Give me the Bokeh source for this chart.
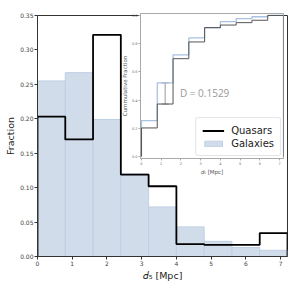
from bokeh.plotting import figure
from bokeh.layouts import column
from bokeh.models import (Range1d, FixedTicker, Legend, LegendItem, Whisker,
                          TeeHead, ColumnDataSource, NumeralTickFormatter)
from bokeh.embed import file_html
from bokeh.resources import INLINE
from bokeh.core.properties import value
import numpy as np

# ---------------- data ----------------
bin_edges = [0.0, 0.8, 1.6, 2.4, 3.2, 4.0, 4.8, 5.6, 6.4, 7.2]
quasar_frac = [0.203, 0.170, 0.322, 0.119, 0.102, 0.018, 0.017, 0.017, 0.034]
galaxy_frac = [0.255, 0.267, 0.199, 0.120, 0.072, 0.043, 0.022, 0.013, 0.009]
ks_label = "D = 0.1529"
x_ticks = [0, 1, 2, 3, 4, 5, 6, 7]
y_ticks = [0.0, 0.05, 0.10, 0.15, 0.20, 0.25, 0.30, 0.35]
inset_y_ticks = [0.0, 0.2, 0.4, 0.6, 0.8, 1.0]

GAL_FILL = "#d0dcea"
GAL_LINE = "#bfcfe4"
FONT = "DejaVu Sans"

MAIN_LEFT = 37

# ---------------- main figure ----------------
main = figure(frame_width=250, frame_height=241, title=None,
              x_range=Range1d(0, 7.2), y_range=Range1d(0, 0.35),
              output_backend="svg", toolbar_location=None,
              min_border_left=MAIN_LEFT, min_border_right=8,
              min_border_top=15, min_border_bottom=24)

main.quad(left=bin_edges[:-1], right=bin_edges[1:], bottom=0, top=galaxy_frac,
          fill_color=GAL_FILL, line_color=GAL_LINE, line_width=1)
main.step([bin_edges[0]] + bin_edges, [0] + quasar_frac + [0], mode="after",
          line_color="black", line_width=1.8)

main.xgrid.visible = False
main.ygrid.visible = False
main.outline_line_color = "#333333"
main.outline_line_width = 1
main.xaxis.ticker = FixedTicker(ticks=x_ticks)
main.yaxis.ticker = FixedTicker(ticks=y_ticks)
main.yaxis.formatter = NumeralTickFormatter(format="0.00")
main.xaxis.axis_label = "\U0001D451\u2085 [Mpc]"
main.yaxis.axis_label = "Fraction"
for ax in (main.xaxis, main.yaxis):
    ax.axis_line_color = "#333333"
    ax.major_tick_line_color = "#333333"
    ax.major_tick_out = 3
    ax.major_tick_in = 0
    ax.minor_tick_line_color = None
    ax.major_label_text_font = FONT
    ax.major_label_text_font_size = "6px"
    ax.major_label_text_color = "#444444"
    ax.major_label_standoff = 1
    ax.axis_label_text_font = FONT
    ax.axis_label_text_font_size = "9.5px"
    ax.axis_label_text_font_style = "normal"
    ax.axis_label_text_color = "#222222"
    ax.axis_label_standoff = 1

# ---------------- inset figure ----------------
cq = np.cumsum(quasar_frac) / np.sum(quasar_frac)
cg = np.cumsum(galaxy_frac) / np.sum(galaxy_frac)
diff = np.abs(cg - cq)
k = int(np.argmax(diff))
d_x = 0.5 * (bin_edges[k] + bin_edges[k + 1])
d_lo = float(min(cq[k], cg[k]))
d_hi = float(max(cq[k], cg[k]))

ins = figure(frame_width=143, frame_height=145, title=None,
             x_range=Range1d(-0.05, 7.2), y_range=Range1d(-0.014, 1.014),
             output_backend="svg", toolbar_location=None,
             min_border_left=MAIN_LEFT, min_border_right=8,
             min_border_top=2, min_border_bottom=16)
ins.border_fill_alpha = 0
ins.background_fill_color = "white"
ins.xgrid.visible = False
ins.ygrid.visible = False
ins.outline_line_color = "#aaaaaa"
ins.outline_line_width = 1

step_x = [bin_edges[0]] + bin_edges
ins.step(step_x, [0] + list(cg) + [0], mode="after",
         line_color="#a9c1e1", line_width=1.3)
ins.step(step_x, [0] + list(cq) + [0], mode="after",
         line_color="#555555", line_width=1.0)

wsrc = ColumnDataSource(dict(base=[d_x], lower=[d_lo], upper=[d_hi]))
ins.add_layout(Whisker(source=wsrc, base="base", lower="lower", upper="upper",
                       dimension="height", line_color="#999999", line_width=1,
                       upper_head=TeeHead(size=7, line_color="#999999", line_width=1),
                       lower_head=TeeHead(size=7, line_color="#999999", line_width=1)))
ins.text(x=[d_x + 0.75], y=[0.5 * (d_lo + d_hi)], text=[ks_label],
         text_font=value("Open Sans"), text_font_size="10px",
         text_color="#999999", text_baseline="middle", text_align="left")

ins.xaxis.ticker = FixedTicker(ticks=x_ticks)
ins.yaxis.ticker = FixedTicker(ticks=inset_y_ticks)
ins.yaxis.formatter = NumeralTickFormatter(format="0.0")
ins.xaxis.axis_label = "\U0001D451\u2085 [Mpc]"
ins.yaxis.axis_label = "Cummulative Fraction"
for ax in (ins.xaxis, ins.yaxis):
    ax.axis_line_color = "#aaaaaa"
    ax.major_tick_line_color = "#aaaaaa"
    ax.major_tick_out = 2
    ax.major_tick_in = 0
    ax.minor_tick_line_color = None
    ax.major_label_text_font = FONT
    ax.major_label_text_font_size = "3.5px"
    ax.major_label_text_color = "#666666"
    ax.major_label_standoff = 1
    ax.axis_label_text_font = FONT
    ax.axis_label_text_font_size = "5.5px"
    ax.axis_label_text_font_style = "normal"
    ax.axis_label_text_color = "#555555"
    ax.axis_label_standoff = 1

# legend (drawn inside the inset, lower right); hidden renderers carry the key styles
lq = ins.step(step_x, [0] + list(cq) + [0], mode="after",
              line_color="black", line_width=1.8, visible=False)
lg = ins.quad(left=bin_edges[:-1], right=bin_edges[1:], bottom=0, top=list(cg),
              fill_color=GAL_FILL, line_color=GAL_LINE, visible=False)
legend = Legend(items=[LegendItem(label="Quasars", renderers=[lq]),
                       LegendItem(label="Galaxies", renderers=[lg])],
                location="bottom_right")
legend.label_text_font = FONT
legend.label_text_font_size = "10px"
legend.label_text_color = "#222222"
legend.glyph_width = 22
legend.glyph_height = 7
legend.label_height = 12
legend.spacing = 1
legend.padding = 6
legend.margin = 2
legend.label_standoff = 7
legend.border_line_color = "#cccccc"
legend.border_radius = 3
legend.background_fill_alpha = 0.85
legend.inactive_fill_alpha = 0.0
ins.add_layout(legend)

main_h = 15 + 241 + 24
ins.margin = (-main_h + 8, 0, 0, 140 - MAIN_LEFT)

layout = column(main, ins)
open("out.html", "w").write(file_html(layout, INLINE))
